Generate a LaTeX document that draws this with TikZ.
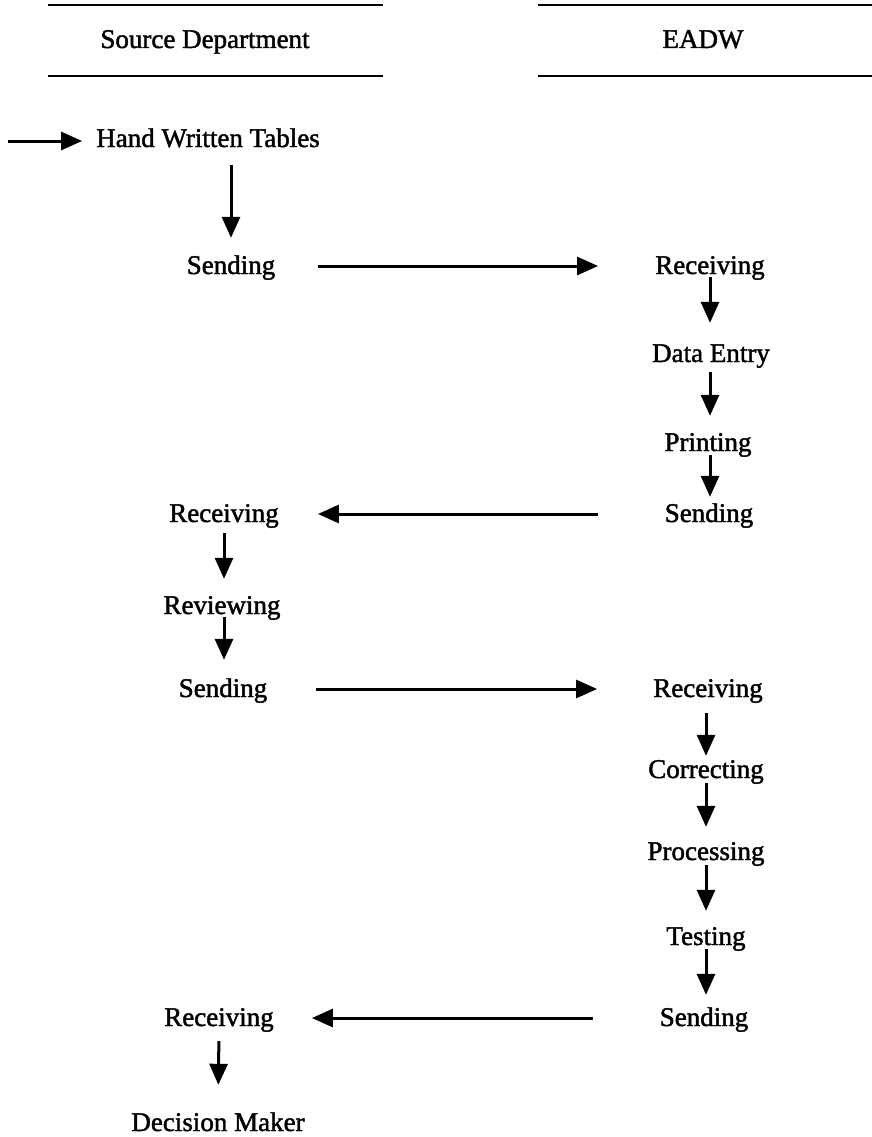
\documentclass[tikz,border=0pt]{standalone}
\usepackage{fontspec}
\setmainfont{Liberation Serif}
\newfontfamily\scanfont{Liberation Serif}[RawFeature={embolden=1.6}]
\usetikzlibrary{arrows.meta}
\begin{document}
\begin{tikzpicture}[x=1pt,y=-1pt,
  lbl/.style={inner sep=0pt, anchor=base, text height=22pt, text depth=6pt,
    font=\scanfont\fontsize{27}{32}\selectfont},
  flow/.style={line width=3pt, -{Triangle[length=21pt,width=18pt]}},
  rule/.style={line width=2.6pt}]
\useasboundingbox (0,0) rectangle (872,1137);

% column headings between two rules
\draw[rule] (48,5) -- (383,5);
\draw[rule] (48,76) -- (383,76);
\draw[rule] (538,5) -- (872,5);
\draw[rule] (538,76) -- (872,76);
\node[lbl] (hsrc) at (205,48) {Source Department};
\node[lbl] (headw) at (703,48) {EADW};

% source department column
\coordinate (start) at (8,141);
\node[lbl] (hwt) at (208,147) {Hand Written Tables};
\node[lbl] (sendA) at (231,274) {Sending};
\node[lbl] (recvA) at (224,522) {Receiving};
\node[lbl] (review) at (222,614) {Reviewing};
\node[lbl] (sendB) at (223,697) {Sending};
\node[lbl] (recvB) at (219,1026) {Receiving};
\node[lbl] (decide) at (218,1131) {Decision Maker};

% EADW column
\node[lbl] (recvC) at (710,274) {Receiving};
\node[lbl] (entry) at (711,362) {Data Entry};
\node[lbl] (print) at (708,451) {Printing};
\node[lbl] (sendC) at (709,522) {Sending};
\node[lbl] (recvD) at (708,697) {Receiving};
\node[lbl] (correct) at (706,778) {Correcting};
\node[lbl] (process) at (706,860) {Processing};
\node[lbl] (test) at (706,945) {Testing};
\node[lbl] (sendD) at (704,1026) {Sending};

% entry arrow
\draw[flow, shorten >=14pt] (start) -- (start -| hwt.west);

% vertical steps
\draw[flow, shorten <=12pt, shorten >=14pt] (hwt.south -| sendA.north) -- (sendA.north);
\draw[flow, shorten <=-3pt, shorten >=17pt] (recvC.south) -- (recvC.south |- entry.north);
\draw[flow, shorten <=4pt, shorten >=13pt] (entry.south -| recvC.south) -- (recvC.south |- print.north);
\draw[flow, shorten <=-2pt, shorten >=3pt] (print.south -| recvC.south) -- (recvC.south |- sendC.north);
\draw[flow, shorten <=5pt, shorten >=13pt] (recvA.south) -- (recvA.south |- review.north);
\draw[flow, shorten <=-3pt, shorten >=15pt] (review.south -| recvA.south) -- (recvA.south |- sendB.north);
\draw[flow, shorten <=10pt, shorten >=0pt] (recvD.south -| correct.north) -- (correct.north);
\draw[flow, shorten <=-1pt, shorten >=11pt] (correct.south) -- (process.north);
\draw[flow, shorten <=-1pt, shorten >=12pt] (process.south) -- (test.north);
\draw[flow, shorten <=-2pt, shorten >=9pt] (test.south) -- (test.south |- sendD.north);
\draw[flow, shorten <=9pt, shorten >=24pt] (recvB.south) -- (decide.north);

% transfers between the two columns
\draw[flow, shorten <=43pt, shorten >=57pt] (sendA.east) -- (sendA.east -| recvC.west);
\draw[flow, shorten <=67pt, shorten >=39pt] (sendC.west) -- (sendC.west -| recvA.east);
\draw[flow, shorten <=49pt, shorten >=56pt] (sendB.east) -- (sendB.east -| recvD.west);
\draw[flow, shorten <=67pt, shorten >=38pt] (sendD.west) -- (sendD.west -| recvB.east);
\end{tikzpicture}
\end{document}
